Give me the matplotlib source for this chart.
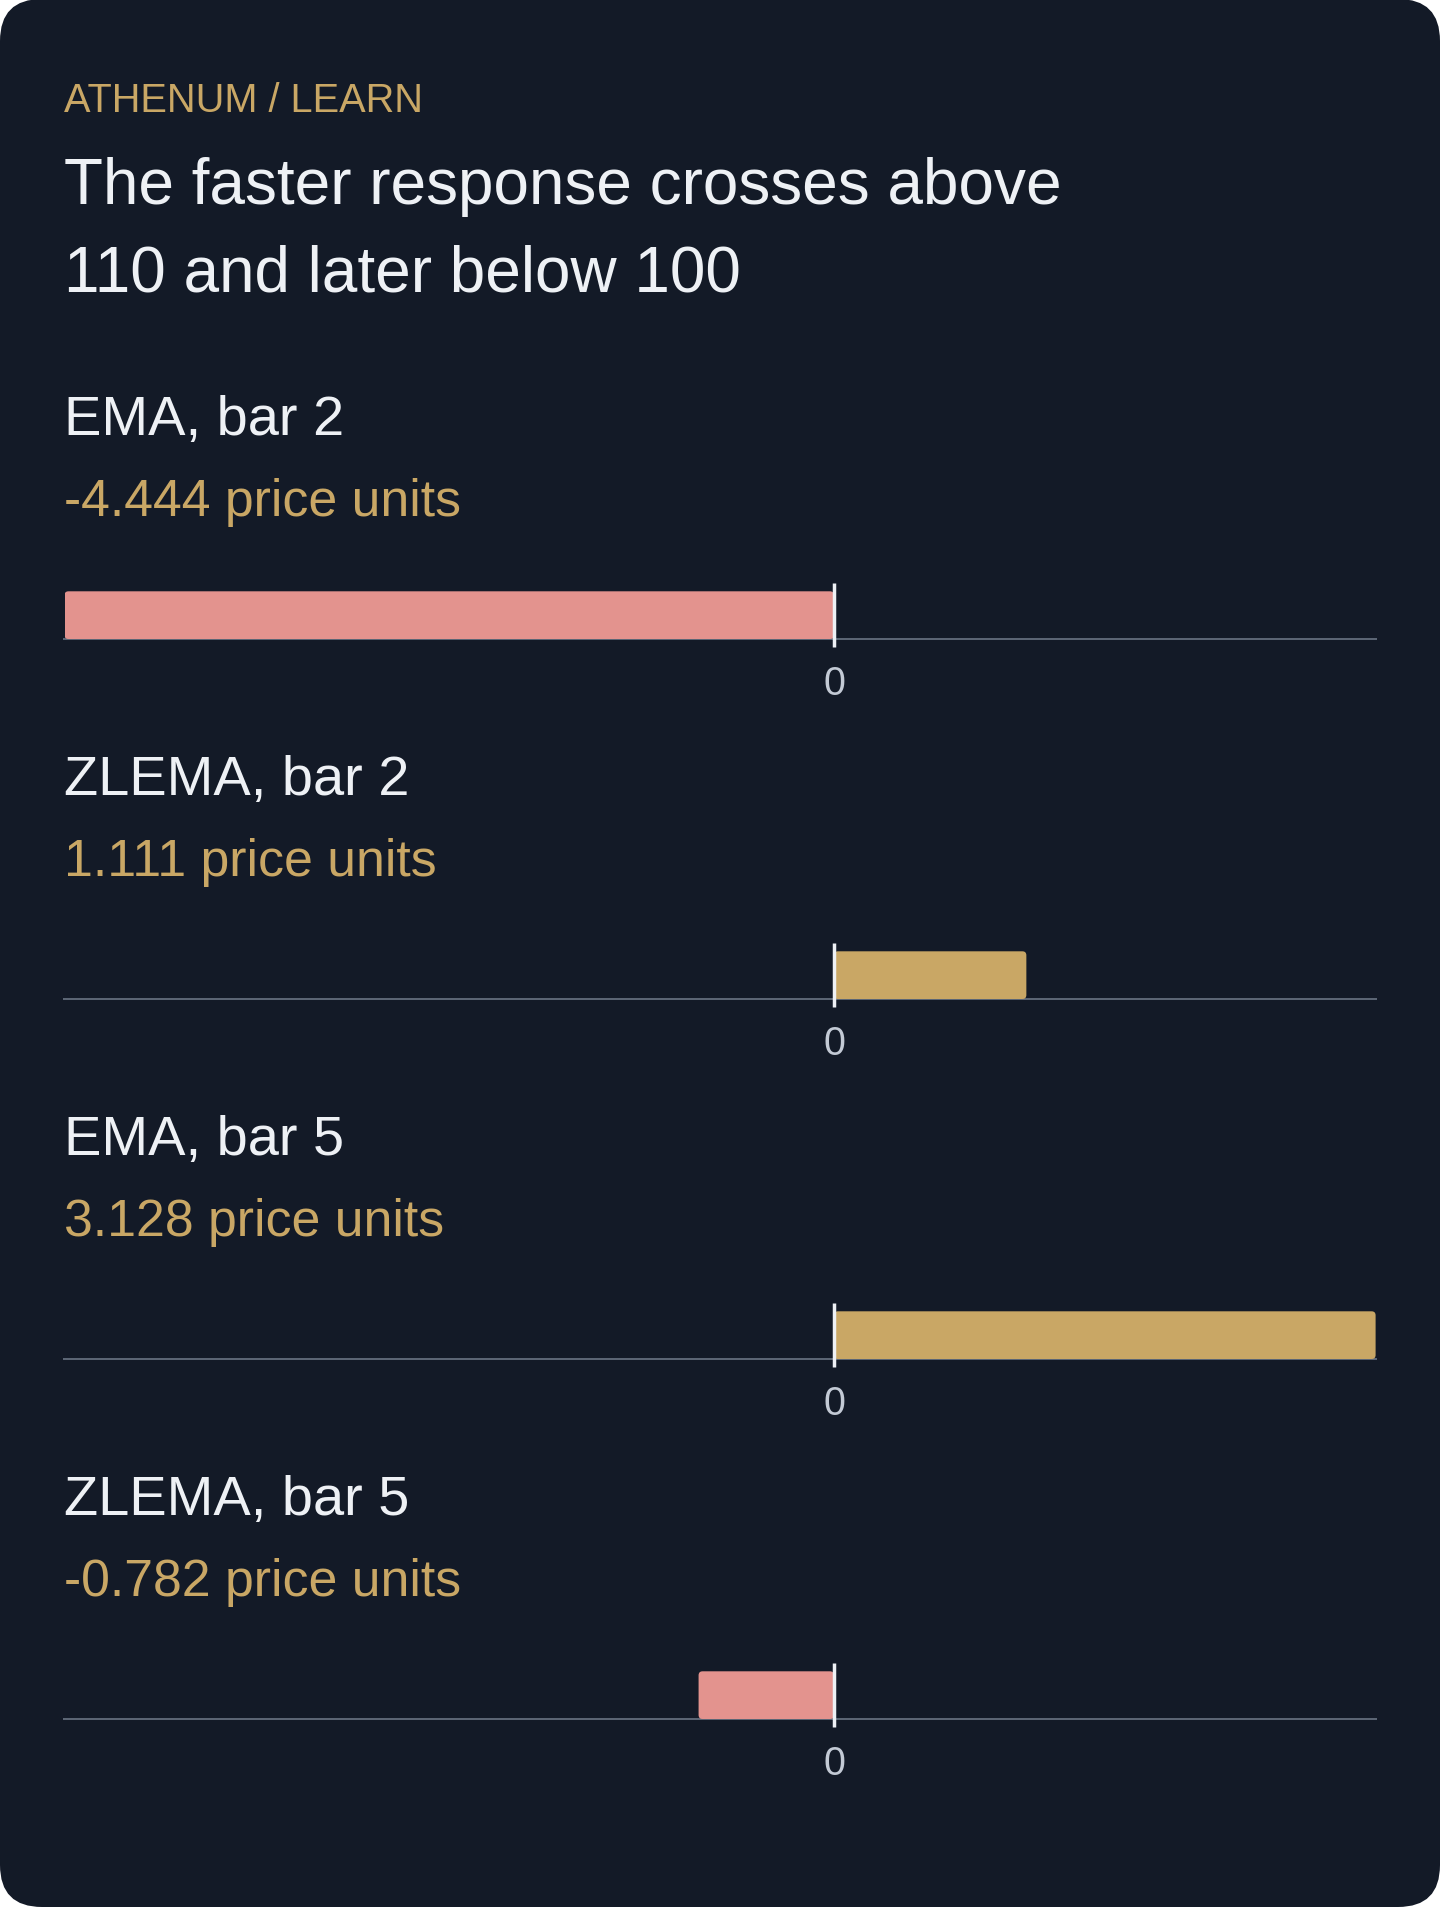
import matplotlib
matplotlib.use("Agg")
import matplotlib.pyplot as plt
from matplotlib.patches import FancyBboxPatch

plt.rcParams['font.family'] = ['Liberation Sans', 'DejaVu Sans']

# data
labels = ["EMA, bar 2", "ZLEMA, bar 2", "EMA, bar 5", "ZLEMA, bar 5"]
values = [-4.444, 1.111, 3.128, -0.782]
unit = "price units"
eyebrow = "ATHENUM / LEARN"
title_lines = ["The faster response crosses above", "110 and later below 100"]

# colours
CARD = "#131a27"
GOLD = "#c9a765"
PINK = "#e3938e"
WHITE = "#eef1f5"
GRID = "#5b6574"
TICK = "#c3cad5"

W, H = 1440, 1908
fig = plt.figure(figsize=(W / 100, H / 100), dpi=100)
fig.patch.set_facecolor("white")

# background card, pixel coordinates
bg = fig.add_axes([0, 0, 1, 1])
bg.set_xlim(0, W)
bg.set_ylim(H, 0)
bg.axis("off")
bg.add_patch(FancyBboxPatch((0, 0), W, H, boxstyle="round,pad=0,rounding_size=42",
                            fc=CARD, ec="none"))

bg.text(64, 112, eyebrow, fontsize=28.6, color=GOLD, va="baseline")
bg.text(64, 204, title_lines[0], fontsize=46, color=WHITE, va="baseline")
bg.text(64, 292, title_lines[1], fontsize=46, color=WHITE, va="baseline")

left, right = 64.5, 1375.6
first_base, step = 640, 360
bar_h = 47.7
lo, hi = min(values), max(values)
px_per_unit = (right - left) / (hi - lo)

for i, (lab, v) in enumerate(zip(labels, values)):
    base = first_base + step * i
    bg.text(64, base - 205, lab, fontsize=40.3, color=WHITE, va="baseline")
    bg.text(64, base - 124, f"{v:.3f} {unit}", fontsize=37.3, color=GOLD, va="baseline")

    ax = fig.add_axes([left / W, (H - base) / H, (right - left) / W, 60 / H])
    ax.set_facecolor("none")
    ax.set_xlim(lo, hi)
    ax.set_ylim(0, 60)
    for s in ["top", "left", "right"]:
        ax.spines[s].set_visible(False)
    ax.spines["bottom"].set_color(GRID)
    ax.spines["bottom"].set_linewidth(1.44)
    ax.set_yticks([])
    ax.set_xticks([0])
    ax.set_xticklabels(["0"])
    ax.tick_params(axis="x", length=0, pad=18.2, labelsize=28.5, labelcolor=TICK)

    # rounded bar
    r = 4 / px_per_unit
    bar = FancyBboxPatch((min(0, v), 0), abs(v), bar_h,
                         boxstyle=f"round,pad=0,rounding_size={r}",
                         mutation_aspect=px_per_unit,
                         fc=PINK if v < 0 else GOLD, ec="none", zorder=3)
    ax.add_patch(bar)

    # zero marker
    ax.plot([0, 0], [-8, bar_h + 8], color=WHITE, lw=2.5, solid_capstyle="butt",
            clip_on=False, zorder=5)

fig.savefig("out.png", dpi=100, facecolor=fig.get_facecolor())
